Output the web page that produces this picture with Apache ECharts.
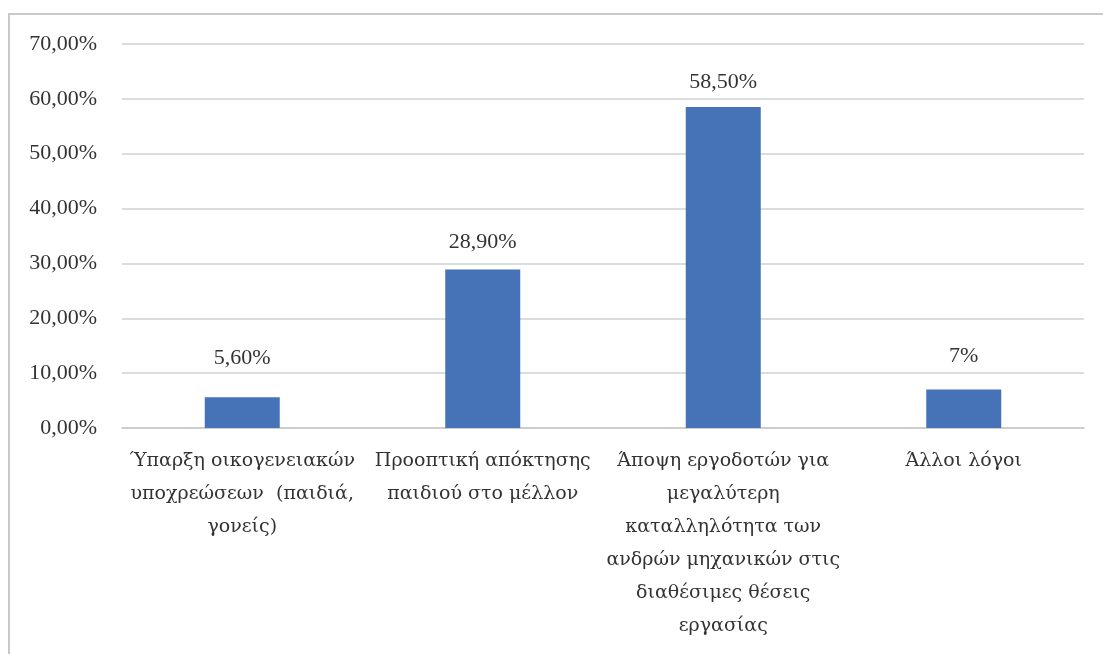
<!DOCTYPE html>
<html>
<head>
<meta charset="utf-8">
<script src="https://cdn.jsdelivr.net/npm/echarts@6/dist/echarts.min.js"></script>
<style>
html,body{margin:0;padding:0;background:#fff;}
#chart{width:1103px;height:654px;}
</style>
</head>
<body>
<div id="chart"></div>
<script>
const categories = [
  "Ύπαρξη οικογενειακών\nυποχρεώσεων  (παιδιά,\nγονείς)",
  "Προοπτική απόκτησης\nπαιδιού στο μέλλον",
  "Άποψη εργοδοτών για\nμεγαλύτερη\nκαταλληλότητα των\nανδρών μηχανικών στις\nδιαθέσιμες θέσεις\nεργασίας",
  "Άλλοι λόγοι"
];
const values = [5.6, 28.9, 58.5, 7];
const valueLabels = ["5,60%", "28,90%", "58,50%", "7%"];
const yTicks = [0, 10, 20, 30, 40, 50, 60, 70];

// label gap above each bar (style only)
const labelGaps = [28, 16, 14, 22];

const FONT = '"Liberation Serif", serif';
const GFONT = '"DejaVu Serif", serif';
const TXT = '#333333';

const chart = echarts.init(document.getElementById('chart'));
chart.setOption({
  animation: false,
  backgroundColor: '#ffffff',
  graphic: [{
    type: 'rect',
    shape: { x: 9, y: 14, width: 1200, height: 800 },
    style: { fill: 'none', stroke: '#c9c9c9', lineWidth: 2 },
    silent: true
  }],
  grid: { left: 122, right: 19, top: 44, bottom: 226, containLabel: false },
  xAxis: {
    type: 'category',
    data: categories,
    axisTick: { show: false },
    axisLine: { lineStyle: { color: '#c8c8c8', width: 1.5 } },
    axisLabel: {
      interval: 0,
      margin: 17,
      fontFamily: GFONT,
      fontSize: 19,
      lineHeight: 33,
      color: TXT,
      align: 'center'
    }
  },
  yAxis: {
    type: 'value',
    min: yTicks[0],
    max: yTicks[yTicks.length - 1],
    interval: 10,
    axisLine: { show: false },
    axisTick: { show: false },
    splitLine: { lineStyle: { color: '#d0d0d0', width: 1.5 } },
    axisLabel: {
      margin: 25,
      fontFamily: FONT,
      fontSize: 22,
      color: TXT,
      formatter: v => v.toFixed(2).replace('.', ',') + '%'
    }
  },
  series: [{
    type: 'bar',
    data: values.map((v, i) => ({ value: v, label: { distance: labelGaps[i] } })),
    barWidth: 75,
    itemStyle: { color: '#4672B8' },
    label: {
      show: true,
      position: 'top',
      fontFamily: FONT,
      fontSize: 22,
      color: TXT,
      formatter: p => valueLabels[p.dataIndex]
    }
  }]
});
</script>
</body>
</html>
